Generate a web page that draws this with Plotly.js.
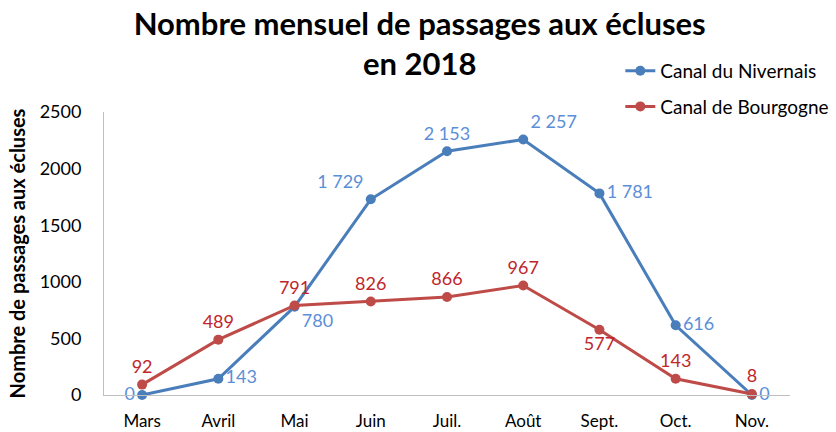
<!DOCTYPE html>
<html>
<head>
<meta charset="utf-8">
<script src="https://cdn.plot.ly/plotly-3.0.1.min.js"></script>
<style>html,body{margin:0;padding:0;background:#fff;}#chart{width:836px;height:432px;}</style>
</head>
<body>
<div id="chart"></div>
<script>
const months = ["Mars", "Avril", "Mai", "Juin", "Juil.", "Août", "Sept.", "Oct.", "Nov."];
const nivernais = [0, 143, 780, 1729, 2153, 2257, 1781, 616, 0];
const bourgogne = [92, 489, 791, 826, 866, 967, 577, 143, 8];
const nivernaisPos = ["middle left", "middle right", "bottom right", "top left", "top center", "top right", "middle right", "middle right", "middle right"];
const bourgognePos = ["top center", "top center", "top center", "top center", "top center", "top center", "bottom center", "top center", "top center"];

function fmt(v) {
  return String(v).replace(/\B(?=(\d{3})+(?!\d))/g, "\u00a0");
}

const FONT = "Lato, 'Open Sans', sans-serif";
const blue = "#4A7EBB", blueTxt = "#5B8FD8";
const red = "#BE4B48", redTxt = "#C0262B";

const traces = [
  {
    x: months, y: nivernais, name: "Canal du Nivernais", type: "scatter",
    mode: "lines+markers+text",
    line: {color: blue, width: 3}, marker: {color: blue, size: 10},
    text: nivernais.map(fmt), textposition: nivernaisPos,
    textfont: {family: FONT, size: 18, color: blueTxt},
    legendgroup: "a", cliponaxis: false, hoverinfo: "skip"
  },
  {
    x: months, y: bourgogne, name: "Canal de Bourgogne", type: "scatter",
    mode: "lines+markers+text",
    line: {color: red, width: 3}, marker: {color: red, size: 10},
    text: bourgogne.map(fmt), textposition: bourgognePos,
    textfont: {family: FONT, size: 18, color: redTxt},
    legendgroup: "b", cliponaxis: false, hoverinfo: "skip"
  }
];

const layout = {
  width: 836, height: 432,
  margin: {l: 104, r: 46, t: 112, b: 37, autoexpand: false},
  paper_bgcolor: "#fff", plot_bgcolor: "#fff",
  font: {family: FONT, color: "#000"},
  title: {
    text: "<b>Nombre mensuel de passages aux écluses<br>en 2018</b>",
    font: {family: FONT, size: 31, color: "#000"},
    xref: "container", yref: "container",
    x: 0.502, xanchor: "center", y: 0.92, yanchor: "top"
  },
  showlegend: true,
  legend: {
    xref: "container", yref: "container",
    x: 0.742, y: 0.88, xanchor: "left", yanchor: "top",
    font: {family: FONT, size: 19, color: "#000"},
    tracegroupgap: 8, bgcolor: "rgba(0,0,0,0)"
  },
  xaxis: {
    type: "category", range: [-0.5, 8.5],
    showgrid: false, zeroline: false, showline: true, linecolor: "#BFBFBF", linewidth: 1,
    ticks: "", tickfont: {family: FONT, size: 17, color: "#000"},
    ticklabelstandoff: 11, fixedrange: true
  },
  yaxis: {
    range: [0, 2500], dtick: 500, tick0: 0,
    showgrid: false, zeroline: false, showline: true, linecolor: "#BFBFBF", linewidth: 1,
    ticks: "", tickfont: {family: FONT, size: 18, color: "#000"},
    ticklabelstandoff: 18,
    title: {text: "<b>Nombre de passages aux écluses</b>", font: {family: FONT, size: 20, color: "#000"}, standoff: 8},
    fixedrange: true
  }
};

Plotly.newPlot("chart", traces, layout, {displayModeBar: false, staticPlot: true});
</script>
</body>
</html>
